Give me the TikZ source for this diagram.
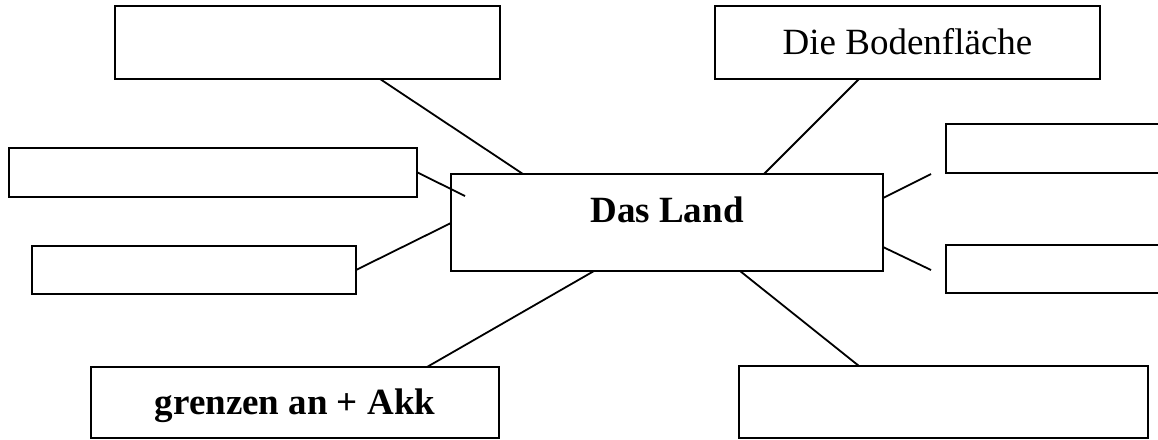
\documentclass[tikz,border=0pt]{standalone}
\usepackage{fontspec}
\setmainfont{Liberation Serif}
\usetikzlibrary{calc}
\begin{document}
\begin{tikzpicture}[x=1pt,y=-1pt,
  box/.style={draw=black,line width=2pt,rectangle,inner sep=0pt,outer sep=0pt,
    font=\fontsize{37}{44}\selectfont,text height=24.5pt,text depth=0pt},
  link/.style={draw=black,line width=1.8pt}]
\fill[white] (0,0) rectangle (1158,439);
\useasboundingbox (0,0) rectangle (1158,439);
\clip (0,0) rectangle (1158,439);

% boxes
\node[box,minimum width=385pt,minimum height=73pt] (tl) at (307.5,42.5) {};
\node[box,minimum width=385pt,minimum height=73pt] (bf) at (907.5,42.5) {Die Bodenfläche};
\node[box,minimum width=408.5pt,minimum height=48.5pt] (lm) at (212.75,172.25) {};
\node[box,minimum width=254pt,minimum height=48.5pt] (ru) at (1073,148.25) {};
\node[box,minimum width=432pt,minimum height=97pt,text height=12pt,text depth=12pt,
  font=\fontsize{37}{44}\selectfont\bfseries] (c) at (667,222.5) {Das Land};
\node[box,minimum width=324pt,minimum height=48pt] (ll) at (194,270) {};
\node[box,minimum width=254pt,minimum height=48pt] (rl) at (1073,269) {};
\node[box,minimum width=408pt,minimum height=71pt,
  font=\fontsize{37}{44}\selectfont\bfseries] (bl) at (295,402.5) {grenzen an + Akk};
\node[box,minimum width=409pt,minimum height=72pt] (br) at (943.5,402) {};

% free ends of the short connectors
\coordinate (lmend) at (465,196);
\coordinate (ruend) at (931,174);
\coordinate (rlend) at (931,270);

% connectors
\draw[link] ([xshift=265pt]tl.south west) -- ([xshift=72pt]c.north west);
\draw[link] ([xshift=144pt]bf.south west) -- ([xshift=313pt]c.north west);
\draw[link] (lm.east) -- (lmend);
\draw[link] (ll.east) -- ([yshift=-49pt]c.north west);
\draw[link] ([yshift=-24pt]c.north east) -- (ruend);
\draw[link] ([yshift=-73pt]c.north east) -- (rlend);
\draw[link] ([xshift=143pt]c.south west) -- ([xshift=336pt]bl.north west);
\draw[link] ([xshift=289pt]c.south west) -- ([xshift=120pt]br.north west);
\end{tikzpicture}
\end{document}
